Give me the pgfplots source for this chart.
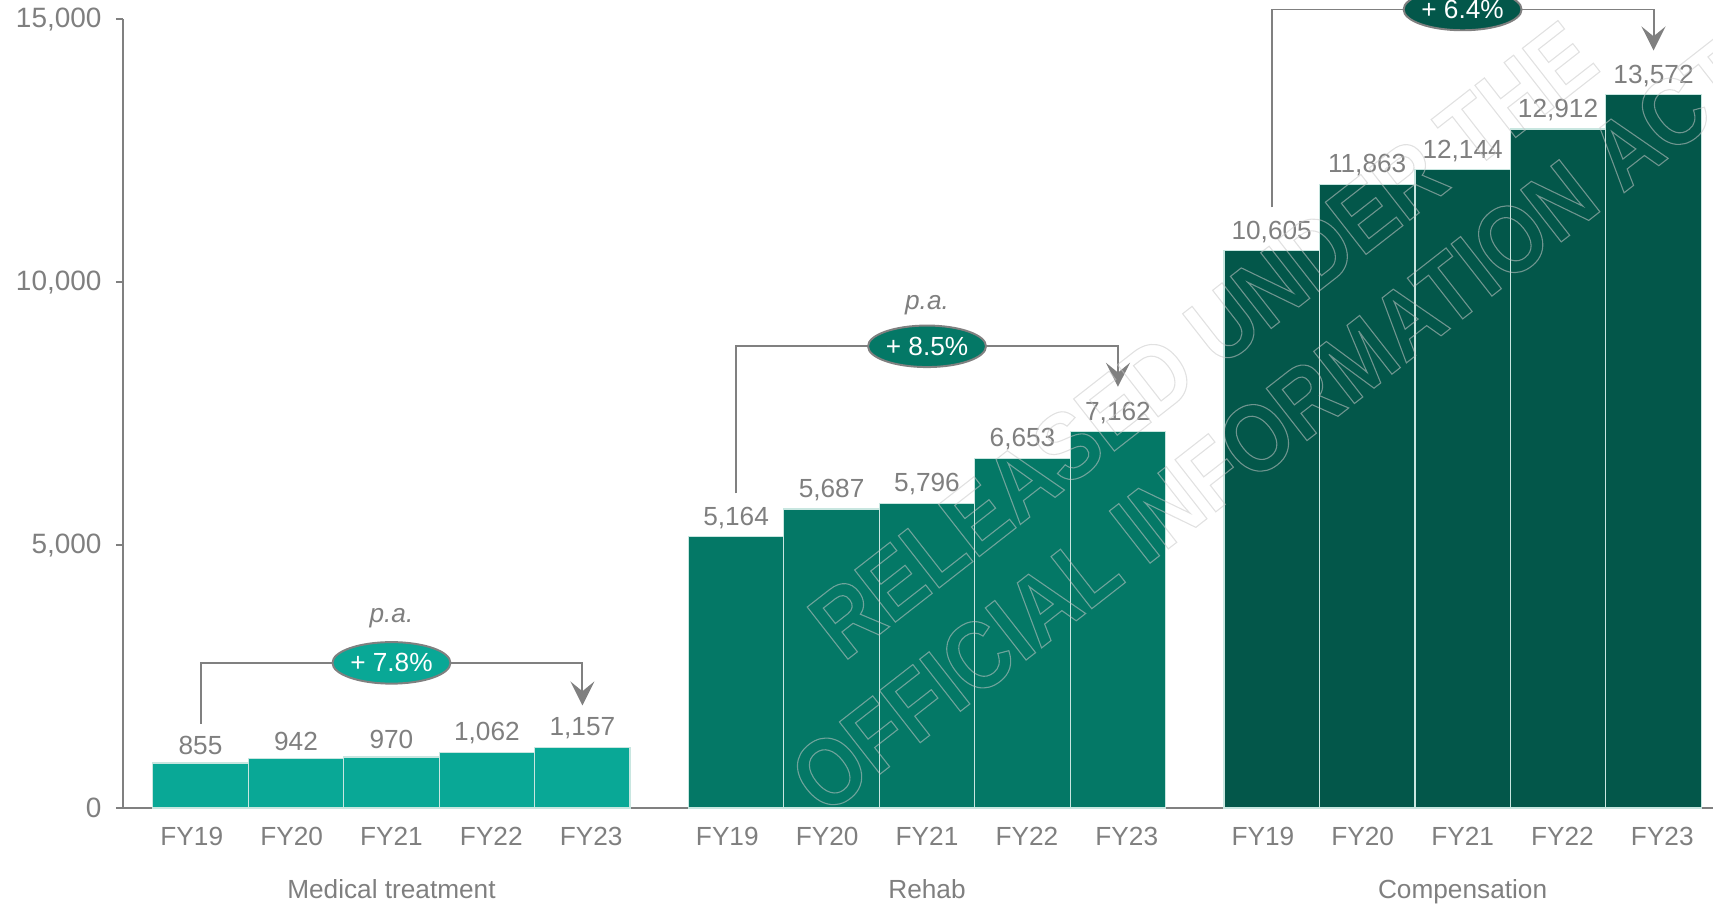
\documentclass[border=0pt]{standalone}
\usepackage{fontspec}
\setmainfont{Liberation Sans}
\newfontfamily\stampfont[FakeStretch=0.867]{Liberation Sans Bold}
\usepackage{pgfplots}
\pgfplotsset{compat=1.18}
\usetikzlibrary{shapes.geometric,arrows.meta}

\definecolor{medcol}{RGB}{9,168,150}
\definecolor{rehabcol}{RGB}{4,120,102}
\definecolor{compcol}{RGB}{3,87,74}
\definecolor{txtgray}{RGB}{127,127,127}
\definecolor{axgray}{RGB}{128,128,128}
\definecolor{edgecol}{RGB}{200,230,224}
\definecolor{wmgray}{RGB}{200,200,200}

% switch PDF text rendering to outlines and back
\makeatletter
\newcommand\outlinetext{\pgfsys@invoke{1 Tr 0.5 w}}
\newcommand\filltext{\pgfsys@invoke{0 Tr}}
\makeatother

\tikzset{
  growth/.style={ellipse, draw=axgray, line width=0.9pt, minimum width=54pt,
    minimum height=19pt, inner sep=0pt, text=white},
  bracket/.style={draw=axgray, line width=0.9pt,
    -{Stealth[length=11pt,width=11pt,inset=4.5pt]}},
}

\begin{document}
\begin{tikzpicture}[font=\fontsize{12}{14.4}\selectfont]
\useasboundingbox (0,0) rectangle (784pt,413.5pt);
\clip (0,0) rectangle (784pt,413.5pt);
\begin{axis}[
  at={(56.3pt,43.7pt)}, anchor=south west,
  scale only axis, width=728pt, height=361pt,
  xmin=-0.812, xmax=15.85, ymin=0, ymax=15000,
  clip=false,
  axis x line*=bottom, axis y line*=left,
  axis line style={draw=axgray, line width=0.9pt},
  x axis line style={-}, y axis line style={-},
  ytick={0,5000,10000,15000},
  scaled y ticks=false,
  tick align=outside, major tick length=3.3pt,
  ytick style={draw=axgray, line width=0.9pt},
  xtick={-0.092,0.954,2,3.046,4.092,5.518,6.564,7.61,8.656,9.702,11.128,12.174,13.22,14.266,15.312},
  xticklabels={FY19,FY20,FY21,FY22,FY23,FY19,FY20,FY21,FY22,FY23,FY19,FY20,FY21,FY22,FY23},
  xtick style={draw=none},
  tick label style={text=txtgray},
  yticklabel style={xshift=-3pt, font=\fontsize{12.8}{15}\selectfont},
  xticklabel style={yshift=-2pt},
  /pgf/number format/fixed,
  /pgf/number format/precision=0,
  /pgf/number format/1000 sep={,},
  /pgf/number format/assume math mode=true,
  nodes near coords style={text=txtgray},
]
% Medical treatment
\addplot[ybar, bar width=1, bar shift=0pt, fill=medcol, draw=edgecol, line width=0.6pt,
  nodes near coords] coordinates {(0,855) (1,942) (2,970) (3,1062) (4,1157)};
% Rehab
\addplot[ybar, bar width=1, bar shift=0pt, fill=rehabcol, draw=edgecol, line width=0.6pt,
  nodes near coords] coordinates {(5.61,5164) (6.61,5687) (7.61,5796) (8.61,6653) (9.61,7162)};
% Compensation
\addplot[ybar, bar width=1, bar shift=0pt, fill=compcol, draw=edgecol, line width=0.6pt,
  nodes near coords] coordinates {(11.22,10605) (12.22,11863) (13.22,12144) (14.22,12912) (15.22,13572)};

% group names under the year labels
\node[text=txtgray, anchor=base] at ([yshift=-41.3pt]axis cs:2,0) {Medical treatment};
\node[text=txtgray, anchor=base] at ([yshift=-41.3pt]axis cs:7.61,0) {Rehab};
\node[text=txtgray, anchor=base] at ([yshift=-41.3pt]axis cs:13.22,0) {Compensation};

% compound annual growth brackets
\draw[bracket] (axis cs:0,1600) |- (axis cs:4,2760) -- (axis cs:4,1950);
\node[growth, fill=medcol] at (axis cs:2,2760) {+ 7.8\%};
\node[text=txtgray, anchor=base, font=\fontsize{12}{14.4}\selectfont\itshape] at (axis cs:2,3532) {p.a.};

\draw[bracket] (axis cs:5.61,5983) |- (axis cs:9.61,8780) -- (axis cs:9.61,8010);
\node[growth, fill=rehabcol] at (axis cs:7.61,8780) {+ 8.5\%};
\node[text=txtgray, anchor=base, font=\fontsize{12}{14.4}\selectfont\itshape] at (axis cs:7.61,9474) {p.a.};

\draw[bracket] (axis cs:11.22,11420) |- (axis cs:15.22,15185) -- (axis cs:15.22,14405);
\node[growth, fill=compcol] at (axis cs:13.22,15185) {+ 6.4\%};
\end{axis}

% release stamp
\begin{scope}[opacity=0.55]
\node[rotate=38, align=center, text=wmgray, text opacity=0.55, inner sep=0pt,
  font=\stampfont\fontsize{44}{50.5}\selectfont] at (566pt,238pt)
  {\outlinetext RELEASED UNDER THE\\OFFICIAL INFORMATION ACT\filltext};
\end{scope}
\end{tikzpicture}
\end{document}
